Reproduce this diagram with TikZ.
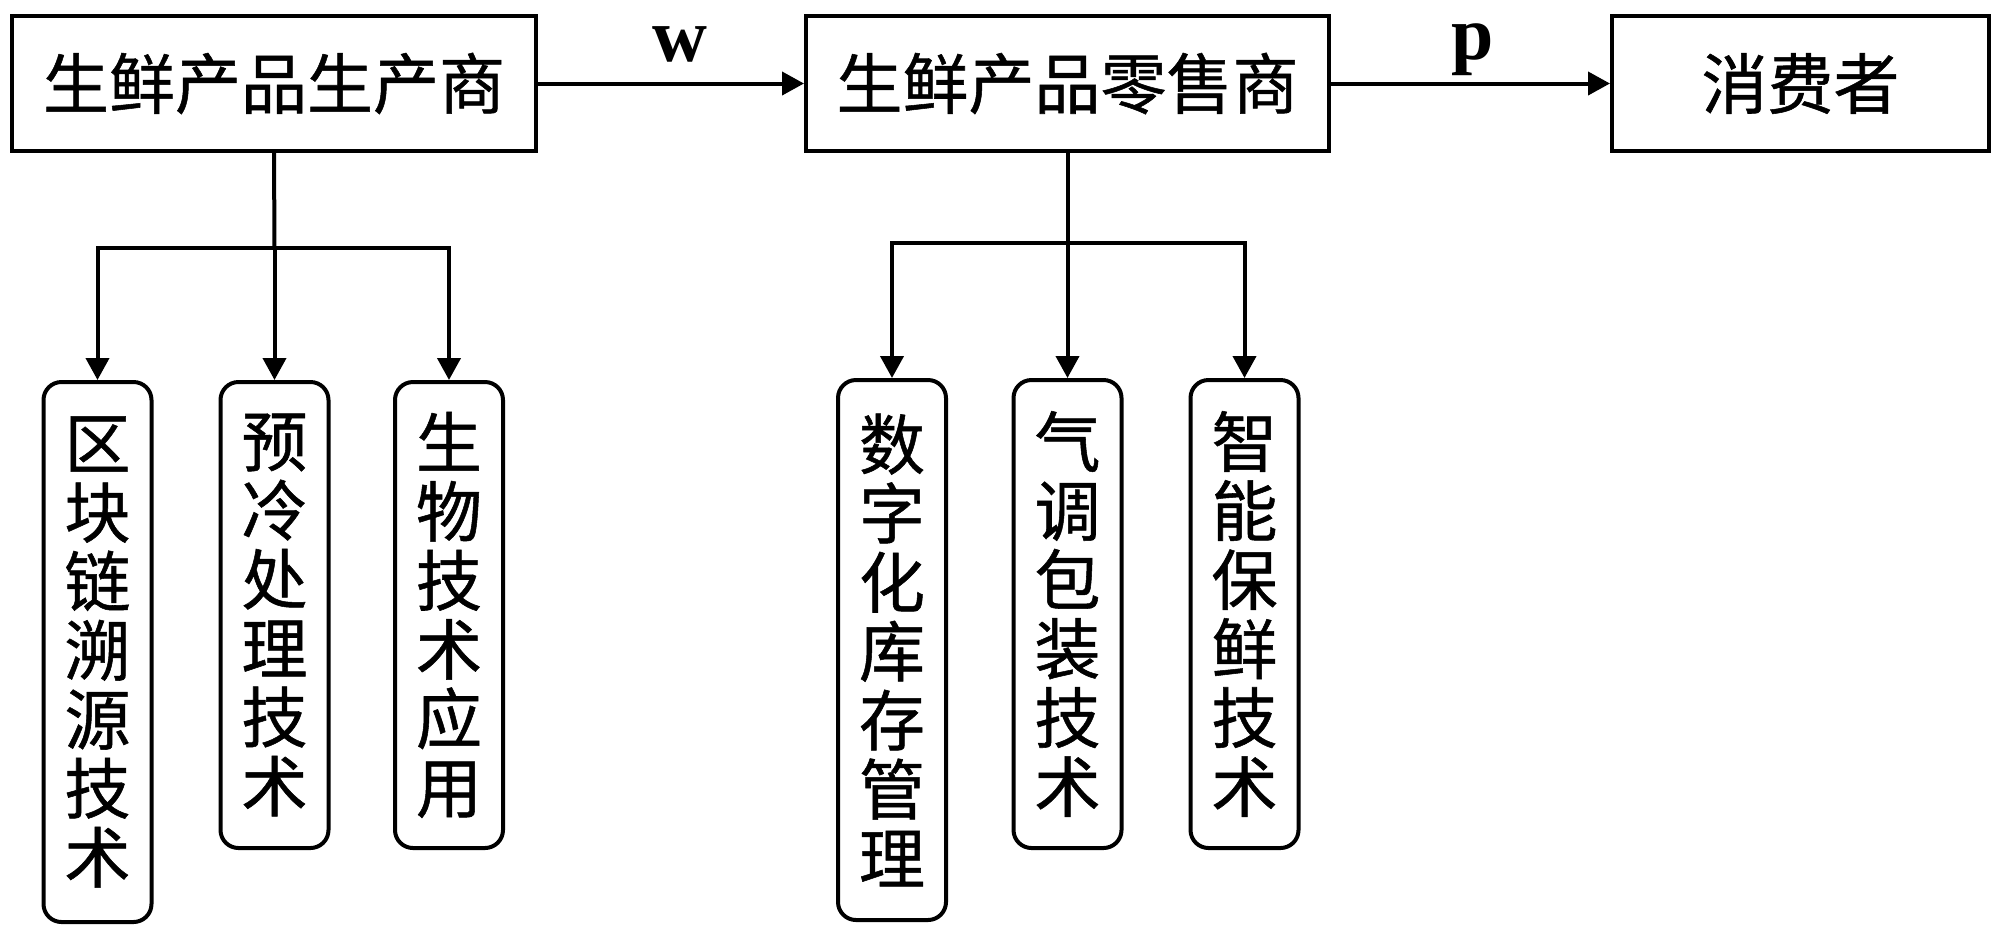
\documentclass[tikz,border=0pt]{standalone}
\usepackage{fontspec}
\newfontfamily\cjk[FakeBold=0.8]{Noto Sans CJK SC}
\newfontfamily\lbfont{Liberation Serif}
\usetikzlibrary{arrows.meta}
\tikzset{
  conn/.style={line width=2pt},
  arr/.style={conn,-{Triangle[length=11pt,width=11.5pt]}},
  topbox/.style={draw,line width=2pt,inner sep=0pt,minimum height=67.5pt,
    font=\fontsize{33pt}{34.5pt}\selectfont\cjk},
  techbox/.style={draw,line width=2pt,rounded corners=9pt,inner sep=0pt,
    minimum width=54pt,align=center,anchor=north,
    font=\fontsize{33pt}{34.5pt}\selectfont\cjk},
  lbl/.style={font=\fontsize{38pt}{40pt}\selectfont\lbfont\bfseries,anchor=base,inner sep=0pt}
}
\begin{document}
\begin{tikzpicture}[x=0.5pt,y=-0.5pt]
\useasboundingbox (0,0) rectangle (2000,933);
% top row
\node[topbox,minimum width=262pt] (prod) at (274,83.5) {生鲜产品生产商};
\node[topbox,minimum width=261.5pt] (ret) at (1067.5,83.5) {生鲜产品零售商};
\node[topbox,minimum width=188.5pt] (cons) at (1800.5,83.5) {消费者};
\draw[arr] (prod.east) -- (ret.west);
\draw[arr] (ret.east) -- (cons.west);
\node[lbl] (wl) at (680,61) {w};
\node[lbl] (pl) at (1473,59) {p};
% producer technologies
\node[techbox,minimum height=270pt] (a1) at (97.5,380) {区\\块\\链\\溯\\源\\技\\术};
\node[techbox,minimum height=233pt] (a2) at (274.5,380) {预\\冷\\处\\理\\技\\术};
\node[techbox,minimum height=233pt] (a3) at (449,380) {生\\物\\技\\术\\应\\用};
\coordinate (pj) at (274.5,248);
\draw[conn] (prod.south) -- (pj);
\draw[arr] (pj) -| (a1.north);
\draw[arr] (pj) -- (a2.north);
\draw[arr] (pj) -| (a3.north);
% retailer technologies
\node[techbox,minimum height=270pt] (b1) at (892,378) {数\\字\\化\\库\\存\\管\\理};
\node[techbox,minimum height=234pt] (b2) at (1067.5,378) {气\\调\\包\\装\\技\\术};
\node[techbox,minimum height=234pt] (b3) at (1244.5,378) {智\\能\\保\\鲜\\技\\术};
\coordinate (rj) at (1067.5,243);
\draw[conn] (ret.south) -- (rj);
\draw[arr] (rj) -| (b1.north);
\draw[arr] (rj) -- (b2.north);
\draw[arr] (rj) -| (b3.north);
\end{tikzpicture}
\end{document}
